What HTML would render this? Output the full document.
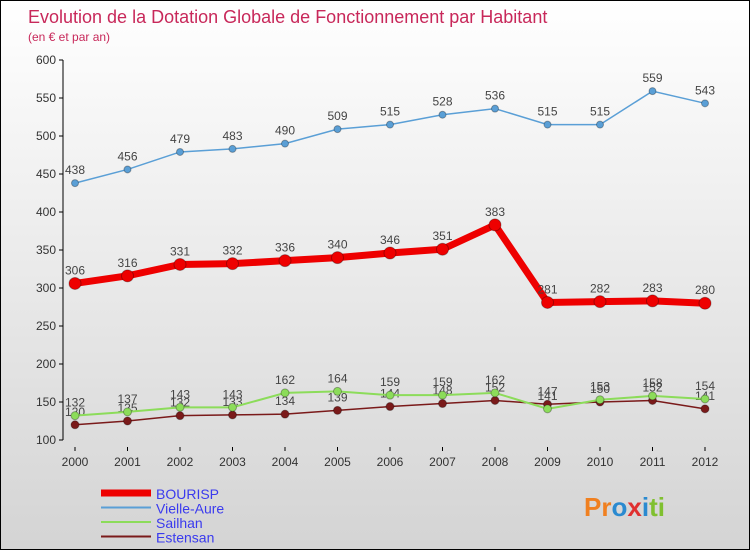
<!DOCTYPE html>
<html><head><meta charset="utf-8"><style>
body{margin:0}
#c{width:748px;height:548px;border:1px solid #000;background:linear-gradient(#fff,#d4d4d4);position:relative;font-family:"Liberation Sans",sans-serif}
text{font-family:"Liberation Sans",sans-serif}
</style></head><body>
<div id="c">
<svg id="s" width="748" height="548">
<text x="27" y="22" font-size="18" fill="#c8285a">Evolution de la Dotation Globale de Fonctionnement par Habitant</text>
<text x="27" y="40" font-size="12" fill="#c8285a">(en € et par an)</text>
</svg>
</div>
<script>
const years=[2000,2001,2002,2003,2004,2005,2006,2007,2008,2009,2010,2011,2012];
const yTicks=[100,150,200,250,300,350,400,450,500,550,600];
const bourisp=[306,316,331,332,336,340,346,351,383,281,282,283,280];
const vielle=[438,456,479,483,490,509,515,528,536,515,515,559,543];
const sailhan=[132,137,143,143,162,164,159,159,162,141,153,158,154];
const estensan=[120,125,132,133,134,139,144,148,152,147,150,152,141];
const svg=document.getElementById('s');const NS='http://www.w3.org/2000/svg';
const X=i=>74+i*52.5, Y=v=>439-(v-100)*0.76;
function el(t,a,p){const e=document.createElementNS(NS,t);for(const k in a)e.setAttribute(k,a[k]);(p||svg).appendChild(e);return e;}
const ax=el('line',{x1:62,y1:Y(600),x2:62,y2:Y(100),stroke:'#000'});


yTicks.forEach(v=>{const l=el('line',{x1:58,x2:62,y1:Y(v),y2:Y(v),stroke:'#000'});


const t=el('text',{x:55,y:Y(v)+4,'text-anchor':'end','font-size':12,fill:'#333'});t.textContent=v;

});
years.forEach((y,i)=>{const l=el('line',{x1:X(i),x2:X(i),y1:446,y2:450,stroke:'#000'});


const t=el('text',{x:X(i),y:465,'text-anchor':'middle','font-size':12,fill:'#333'});t.textContent=y;

});
function series(d,col,w,r,name,lab){
const g=el('g',{});
const p=el('polyline',{points:d.map((v,i)=>X(i)+','+Y(v)).join(' '),fill:'none',stroke:col,'stroke-width':w},g);


d.forEach((v,i)=>{const c=el('circle',{cx:X(i),cy:Y(v),r:r,fill:col,stroke:'rgba(0,0,0,0.3)'},g);


if(lab){const t=el('text',{x:X(i),y:Y(v)-9,'text-anchor':'middle','font-size':12,fill:'#444'},g);t.textContent=v;

}});}
series(estensan,'#7a1a1a',1.5,4,'estensan',true);
series(sailhan,'#8cdc5a',2,4,'sailhan',true);
series(vielle,'#5a9fd6',1.5,3.5,'vielle-aure',true);
series(bourisp,'#ee0000',7,6,'bourisp',true);
const leg=[['BOURISP','#ee0000',7],['Vielle-Aure','#5a9fd6',2],['Sailhan','#8cdc5a',2],['Estensan','#7a1a1a',2]];
leg.forEach((l,i)=>{const y=492+i*14.5;const g=el('g',{});
el('line',{x1:100,x2:150,y1:y,y2:y,stroke:l[1],'stroke-width':l[2]},g);
const t=el('text',{x:155,y:y+6,'font-size':14,fill:'#3a3aee'},g);t.textContent=l[0];});
const lg=el('text',{x:583,y:515,'font-size':26,'font-weight':'bold',fill:'#2a8ad0'});


lg.innerHTML='<tspan fill="#f08020">Pr</tspan><tspan fill="#2a8ad0">o</tspan><tspan fill="#e03030">x</tspan><tspan fill="#2a8ad0">i</tspan><tspan fill="#80c030">ti</tspan>';
</script>
</body></html>
